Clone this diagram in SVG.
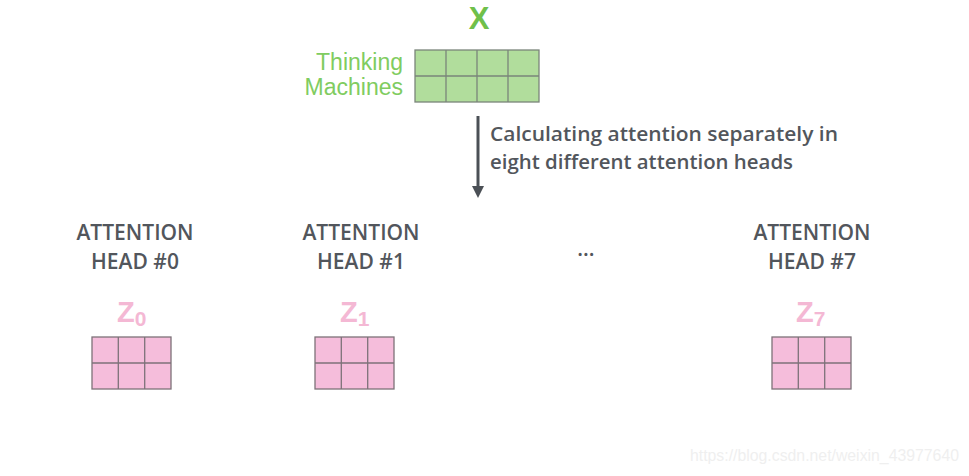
<svg xmlns="http://www.w3.org/2000/svg" width="969" height="476" viewBox="0 0 969 476">
<defs>
<style>
.head{font-family:"Open Sans","DejaVu Sans",sans-serif;font-weight:600;font-size:21px;fill:#52565c;text-anchor:middle}
.cap{font-family:"Open Sans","DejaVu Sans",sans-serif;font-weight:600;font-size:20px;fill:#52565c}
.zt{font-family:"Liberation Sans",Arial,sans-serif;font-weight:bold;fill:#f4b8d4}
.gl{font-family:"Liberation Sans",Arial,sans-serif;font-size:23px;fill:#80cc60;text-anchor:end}
.pink{fill:#f5bddb;stroke:#7d7279;stroke-width:1.3}
.pl{stroke:#7d7279;stroke-width:1.3}
.green{fill:#b1dd9c;stroke:#7a857a;stroke-width:1.3}
.gline{stroke:#7a857a;stroke-width:1.3}
</style>
</defs>
<rect width="969" height="476" fill="#ffffff"/>

<g id="input-x">
<text x="479" y="29" font-family="Liberation Sans,Arial,sans-serif" font-weight="bold" font-size="31" fill="#6fc04a" text-anchor="middle">X</text>
<text class="gl" x="403" y="70">Thinking</text>
<text class="gl" x="403" y="95">Machines</text>
<rect class="green" x="415" y="50" width="124" height="52"/>
<line class="gline" x1="415" y1="76" x2="539" y2="76"/>
<line class="gline" x1="446" y1="50" x2="446" y2="102"/>
<line class="gline" x1="477" y1="50" x2="477" y2="102"/>
<line class="gline" x1="508" y1="50" x2="508" y2="102"/>
</g>

<g id="connectors">
<line x1="478" y1="116" x2="478" y2="188" stroke="#4b5056" stroke-width="3"/>
<path d="M472,186 L484,186 L478,198 z" fill="#4b5056"/>
</g>

<g id="caption">
<text class="cap" x="490" y="141" textLength="348" lengthAdjust="spacingAndGlyphs">Calculating attention separately in</text>
<text class="cap" x="490" y="169" textLength="303" lengthAdjust="spacingAndGlyphs">eight different attention heads</text>
</g>

<g id="head0">
<text class="head" x="135" y="240">ATTENTION</text>
<text class="head" x="135" y="269">HEAD #0</text>
<text class="zt" x="117" y="322" font-size="29">Z<tspan font-size="21" dy="4">0</tspan></text>
<rect class="pink" x="92" y="337" width="79" height="52"/>
<line class="pl" x1="92" y1="363" x2="171" y2="363"/>
<line class="pl" x1="118.3" y1="337" x2="118.3" y2="389"/>
<line class="pl" x1="144.7" y1="337" x2="144.7" y2="389"/>
</g>

<g id="head1">
<text class="head" x="361" y="240">ATTENTION</text>
<text class="head" x="361" y="269">HEAD #1</text>
<text class="zt" x="340" y="322" font-size="29">Z<tspan font-size="21" dy="4">1</tspan></text>
<rect class="pink" x="315" y="337" width="79" height="52"/>
<line class="pl" x1="315" y1="363" x2="394" y2="363"/>
<line class="pl" x1="341.3" y1="337" x2="341.3" y2="389"/>
<line class="pl" x1="367.7" y1="337" x2="367.7" y2="389"/>
</g>

<g id="ellipsis">
<text class="head" x="586" y="256" font-size="18">...</text>
</g>

<g id="head7">
<text class="head" x="812" y="240">ATTENTION</text>
<text class="head" x="812" y="269">HEAD #7</text>
<text class="zt" x="796" y="322" font-size="29">Z<tspan font-size="21" dy="4">7</tspan></text>
<rect class="pink" x="772" y="337" width="79" height="52"/>
<line class="pl" x1="772" y1="363" x2="851" y2="363"/>
<line class="pl" x1="798.3" y1="337" x2="798.3" y2="389"/>
<line class="pl" x1="824.7" y1="337" x2="824.7" y2="389"/>
</g>

<text x="690" y="461" font-family="Liberation Sans,Arial,sans-serif" font-size="16" fill="#efefef" textLength="269" lengthAdjust="spacingAndGlyphs">https://blog.csdn.net/weixin_43977640</text>
</svg>
